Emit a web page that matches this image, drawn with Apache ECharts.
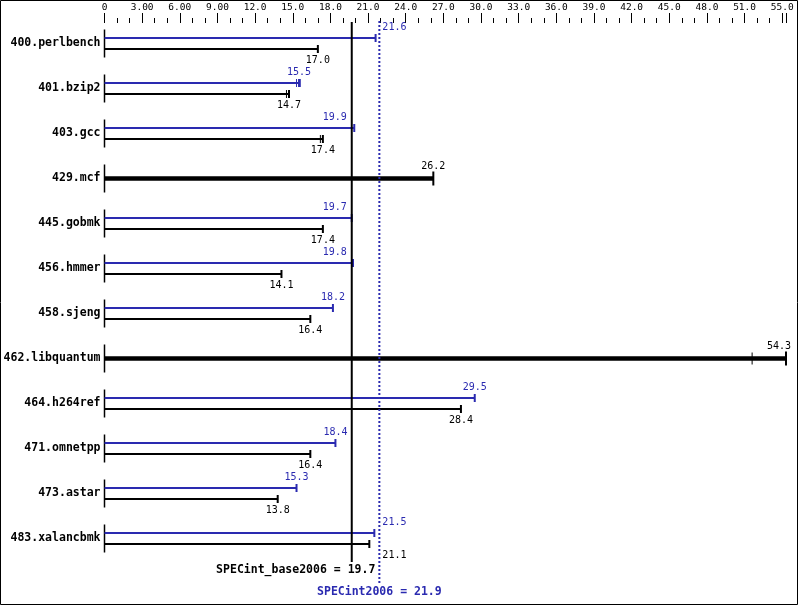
<!DOCTYPE html>
<html>
<head>
<meta charset="utf-8">
<script src="https://cdn.jsdelivr.net/npm/echarts@6/dist/echarts.min.js"></script>
<style>
html,body{margin:0;padding:0;background:#fff;}
#chart{width:799px;height:606px;}
</style>
</head>
<body>
<div id="chart"></div>
<script>
const categories = ['400.perlbench','401.bzip2','403.gcc','429.mcf','445.gobmk','456.hmmer','458.sjeng','462.libquantum','464.h264ref','471.omnetpp','473.astar','483.xalancbmk'];
const peakValues = [21.6, 15.5, 19.9, null, 19.7, 19.8, 18.2, null, 29.5, 18.4, 15.3, 21.5];
const baseValues = [17.0, 14.7, 17.4, 26.2, 17.4, 14.1, 16.4, 54.3, 28.4, 16.4, 13.8, 21.1];
const peakRuns = [[], [15.3, 15.6], [], [], [], [], [], [], [], [], [], []];
const baseRuns = [[], [14.5], [17.2], [], [], [], [], [51.6], [], [], [], []];
const tickLabels = ['0','3.00','6.00','9.00','12.0','15.0','18.0','21.0','24.0','27.0','30.0','33.0','36.0','39.0','42.0','45.0','48.0','51.0','55.0'];
const specBase = 19.7;
const specPeak = 21.9;
const axisMax = 54.3;

const BLUE = '#2a2ab0';
const MONO = 'DejaVu Sans Mono';

const chart = echarts.init(document.getElementById('chart'), null, {renderer: 'canvas'});

function valueLabel(api, val, xEnd, y, color, xb, xp) {
  const w = String(val.toFixed(1)).length * 6.02;
  let left = xEnd - w / 2;
  let right = left + w;
  if (right > xb - 3 && left < xp + 3) {
    if (xEnd < (xb + xp) / 2) { right = xb - 5; left = right - w; }
    else { left = xp + 3; right = left + w; }
  }
  if (right > 791) { right = 791; left = right - w; }
  return {
    type: 'text',
    style: {x: left, y: y, text: val.toFixed(1), fill: color, font: '10px "' + MONO + '"', textAlign: 'left', textVerticalAlign: 'middle'}
  };
}

function renderRow(params, api) {
  const i = api.value(0);
  const p0 = api.coord([0, i]);
  const x0 = p0[0], yc = p0[1];
  const xb = api.coord([specBase, i])[0];
  const xp = api.coord([specPeak, i])[0];
  const children = [];
  children.push({type: 'line', shape: {x1: x0, y1: yc - 14, x2: x0, y2: yc + 14}, style: {stroke: '#000', lineWidth: 1.5}});
  const pk = peakValues[i], bs = baseValues[i];
  if (pk == null) {
    const xe = api.coord([bs, i])[0];
    children.push({type: 'line', shape: {x1: x0, y1: yc, x2: xe, y2: yc}, style: {stroke: '#000', lineWidth: 4.5}});
    children.push({type: 'line', shape: {x1: xe, y1: yc - 7, x2: xe, y2: yc + 7}, style: {stroke: '#000', lineWidth: 2}});
    baseRuns[i].forEach(function (r) {
      const xr = api.coord([r, i])[0];
      children.push({type: 'line', shape: {x1: xr, y1: yc - 6, x2: xr, y2: yc + 6}, style: {stroke: '#000', lineWidth: 1}});
    });
    children.push(valueLabel(api, bs, xe, yc - 12, '#000', xb, xp));
  } else {
    const yp = yc - 5.5, yb = yc + 5.5;
    const xe1 = api.coord([pk, i])[0];
    children.push({type: 'line', shape: {x1: x0, y1: yp, x2: xe1, y2: yp}, style: {stroke: BLUE, lineWidth: 2}});
    children.push({type: 'line', shape: {x1: xe1, y1: yp - 4, x2: xe1, y2: yp + 4}, style: {stroke: BLUE, lineWidth: 2}});
    peakRuns[i].forEach(function (r) {
      const xr = api.coord([r, i])[0];
      children.push({type: 'line', shape: {x1: xr, y1: yp - 4, x2: xr, y2: yp + 4}, style: {stroke: BLUE, lineWidth: 1}});
    });
    children.push(valueLabel(api, pk, xe1, yp - 11, BLUE, xb, xp));
    const xe2 = api.coord([bs, i])[0];
    children.push({type: 'line', shape: {x1: x0, y1: yb, x2: xe2, y2: yb}, style: {stroke: '#000', lineWidth: 2}});
    children.push({type: 'line', shape: {x1: xe2, y1: yb - 4, x2: xe2, y2: yb + 4}, style: {stroke: '#000', lineWidth: 2}});
    baseRuns[i].forEach(function (r) {
      const xr = api.coord([r, i])[0];
      children.push({type: 'line', shape: {x1: xr, y1: yb - 4, x2: xr, y2: yb + 4}, style: {stroke: '#000', lineWidth: 1}});
    });
    children.push(valueLabel(api, bs, xe2, yb + 11, '#000', xb, xp));
  }
  return {type: 'group', children: children};
}

function renderSummary(params, api) {
  const xb = api.coord([api.value(0), 0])[0];
  const xp = api.coord([api.value(1), 0])[0];
  return {type: 'group', children: [
    {type: 'line', shape: {x1: xb, y1: 22, x2: xb, y2: 562}, style: {stroke: '#000', lineWidth: 2}},
    {type: 'line', shape: {x1: xp, y1: 21, x2: xp, y2: 583}, style: {stroke: BLUE, lineWidth: 2, lineDash: [2, 2]}},
    {type: 'text', style: {x: xp - 4, y: 570, text: 'SPECint_base2006 = ' + specBase.toFixed(1), fill: '#000', font: 'bold 11.5px "' + MONO + '"', textAlign: 'right', textVerticalAlign: 'middle'}},
    {type: 'text', style: {x: xp, y: 592, text: 'SPECint2006 = ' + specPeak.toFixed(1), fill: BLUE, font: 'bold 11.5px "' + MONO + '"', textAlign: 'center', textVerticalAlign: 'middle'}}
  ]};
}

const option = {
  animation: false,
  backgroundColor: '#fff',
  graphic: [{type: 'rect', shape: {x: 0.5, y: 0.5, width: 797, height: 604}, style: {fill: 'none', stroke: '#000', lineWidth: 1}, z: 100}],
  grid: {left: 104.5, right: 13, top: 21, height: 540, containLabel: false},
  xAxis: [
    {type: 'value', position: 'top', min: 0, max: axisMax, interval: 3, offset: -2,
      axisLine: {show: false}, splitLine: {show: false},
      axisTick: {show: true, length: 10, lineStyle: {color: '#000', width: 1}},
      axisLabel: {show: true, margin: 10, color: '#000', fontFamily: MONO, fontSize: 9.5, showMaxLabel: true,
        formatter: function (v) { const k = Math.round(v / 3); return (Math.abs(v - k * 3) < 1e-6 && k < tickLabels.length) ? tickLabels[k] : ''; }}},
    {type: 'value', position: 'top', min: 0, max: axisMax, interval: 1, offset: -2,
      axisLine: {show: false}, splitLine: {show: false},
      axisTick: {show: true, length: 5, lineStyle: {color: '#000', width: 1}},
      axisLabel: {show: false}}
  ],
  yAxis: {type: 'category', data: categories, inverse: true,
    axisLine: {show: false}, axisTick: {show: false}, splitLine: {show: false},
    axisLabel: {margin: 4, color: '#000', fontFamily: MONO, fontWeight: 'bold', fontSize: 11.5}},
  series: [
    {type: 'custom', xAxisIndex: 0, renderItem: renderRow, data: categories.map(function (c, i) { return [i]; }), encode: {y: 0}, clip: false},
    {type: 'custom', xAxisIndex: 0, renderItem: renderSummary, data: [[specBase, specPeak]], encode: {x: [0, 1]}, clip: false}
  ]
};
chart.setOption(option);
</script>
</body>
</html>
